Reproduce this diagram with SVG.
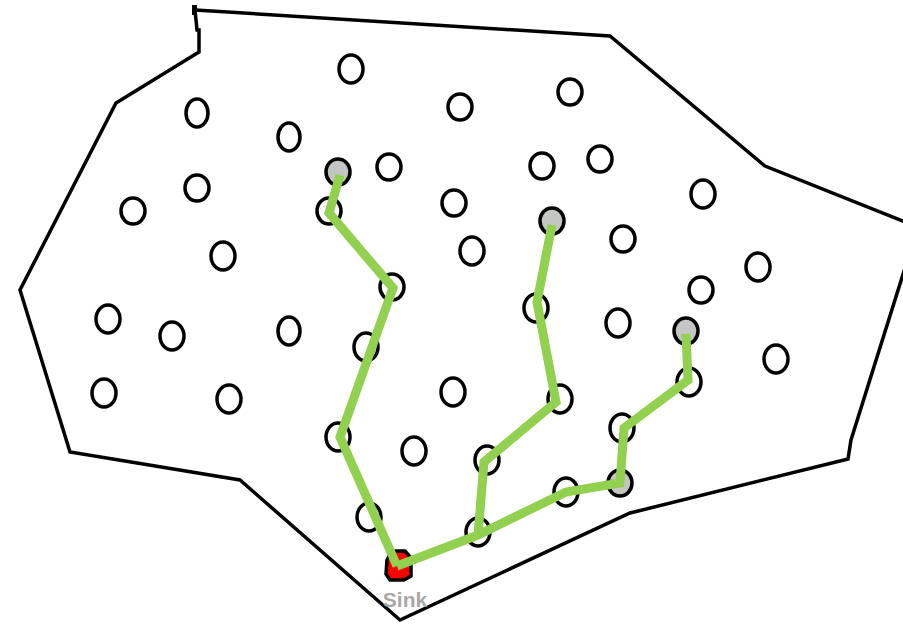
<svg xmlns="http://www.w3.org/2000/svg" width="903" height="625" viewBox="0 0 903 625">
<style>
.outline{fill:none;stroke:#000;stroke-width:3.5;stroke-linejoin:miter}
.node ellipse{fill:#fff;stroke:#000;stroke-width:3.5}
.src ellipse{fill:#c3c6c3}
.route{fill:none;stroke:#92d050;stroke-width:9;stroke-linejoin:miter;stroke-linecap:butt}
</style>
<rect width="903" height="625" fill="#fff"/>
<rect x="192" y="5" width="5" height="10" fill="#000"/>
<path class="outline" d="M195,10 L197,30 L199,30 L199,52 L116,103 L20,290 L70,452 L240,480 L400,620 L630,513 L848,459 L851,440 L905,268 M195,10 L610,36 L765,166 L905,222"/>
<g id="nodes">
<g id="n1" class="node"><ellipse cx="351" cy="69" rx="12" ry="14"/></g>
<g id="n2" class="node"><ellipse cx="460" cy="107" rx="12" ry="13"/></g>
<g id="n3" class="node"><ellipse cx="570" cy="92" rx="12" ry="13"/></g>
<g id="n4" class="node"><ellipse cx="197" cy="113" rx="11" ry="14"/></g>
<g id="n5" class="node"><ellipse cx="289" cy="137" rx="11" ry="14"/></g>
<g id="n6" class="node src"><ellipse cx="338" cy="172" rx="12" ry="13"/></g>
<g id="n7" class="node"><ellipse cx="389" cy="167" rx="12" ry="13"/></g>
<g id="n8" class="node"><ellipse cx="542" cy="166" rx="12" ry="13"/></g>
<g id="n9" class="node"><ellipse cx="600" cy="159" rx="12" ry="13"/></g>
<g id="n10" class="node"><ellipse cx="197" cy="188" rx="12" ry="13"/></g>
<g id="n11" class="node"><ellipse cx="133" cy="211" rx="12" ry="13"/></g>
<g id="n12" class="node"><ellipse cx="329" cy="211" rx="12" ry="13"/></g>
<g id="n13" class="node"><ellipse cx="454" cy="203" rx="12" ry="13"/></g>
<g id="n14" class="node src"><ellipse cx="552" cy="221" rx="12" ry="13"/></g>
<g id="n15" class="node"><ellipse cx="703" cy="194" rx="12" ry="14"/></g>
<g id="n16" class="node"><ellipse cx="623" cy="239" rx="12" ry="13"/></g>
<g id="n17" class="node"><ellipse cx="472" cy="251" rx="12" ry="14"/></g>
<g id="n18" class="node"><ellipse cx="223" cy="256" rx="12" ry="14"/></g>
<g id="n19" class="node"><ellipse cx="758" cy="267" rx="12" ry="14"/></g>
<g id="n20" class="node"><ellipse cx="392" cy="287" rx="12" ry="13"/></g>
<g id="n21" class="node"><ellipse cx="701" cy="290" rx="12" ry="13"/></g>
<g id="n22" class="node"><ellipse cx="108" cy="319" rx="12" ry="14"/></g>
<g id="n23" class="node"><ellipse cx="172" cy="336" rx="12" ry="14"/></g>
<g id="n24" class="node"><ellipse cx="289" cy="331" rx="11" ry="14"/></g>
<g id="n25" class="node"><ellipse cx="536" cy="308" rx="12" ry="14"/></g>
<g id="n26" class="node"><ellipse cx="618" cy="323" rx="12" ry="14"/></g>
<g id="n27" class="node src"><ellipse cx="686" cy="331" rx="12" ry="13"/></g>
<g id="n28" class="node"><ellipse cx="366" cy="347" rx="12" ry="14"/></g>
<g id="n29" class="node"><ellipse cx="776" cy="359" rx="12" ry="14"/></g>
<g id="n30" class="node"><ellipse cx="104" cy="393" rx="12" ry="14"/></g>
<g id="n31" class="node"><ellipse cx="229" cy="399" rx="12" ry="14"/></g>
<g id="n32" class="node"><ellipse cx="453" cy="392" rx="12" ry="14"/></g>
<g id="n33" class="node"><ellipse cx="560" cy="399" rx="12" ry="14"/></g>
<g id="n34" class="node"><ellipse cx="689" cy="382" rx="12" ry="14"/></g>
<g id="n35" class="node"><ellipse cx="338" cy="437" rx="12" ry="14"/></g>
<g id="n36" class="node"><ellipse cx="414" cy="451" rx="12" ry="14"/></g>
<g id="n37" class="node"><ellipse cx="622" cy="428" rx="12" ry="14"/></g>
<g id="n38" class="node"><ellipse cx="487" cy="460" rx="12" ry="14"/></g>
<g id="n39" class="node src"><ellipse cx="620" cy="483" rx="12" ry="13"/></g>
<g id="n40" class="node"><ellipse cx="566" cy="492" rx="12" ry="14"/></g>
<g id="n41" class="node"><ellipse cx="369" cy="517" rx="12" ry="14"/></g>
<g id="n42" class="node"><ellipse cx="478" cy="532" rx="12" ry="14"/></g>
</g>
<g id="sink">
<path d="M387,560 L392,551 L405,551 L411,558 L411,576 L404,580 L390,580 L386,574 Z" fill="#f00" stroke="#000" stroke-width="3.5"/>
<text x="405" y="607" font-family="Liberation Sans, sans-serif" font-size="21" font-weight="bold" fill="#a8a8a8" text-anchor="middle">Sink</text>
</g>
<g id="connectors">
<polyline class="route" points="340,175 329,213 393,288 340,437 397,566"/>
<polyline class="route" points="552,225 537,302 556,402 484,462 478,535"/>
<polyline class="route" points="397,566 478,535 566,492 620,483 624,428 688,380 686,334"/>
</g>
</svg>
